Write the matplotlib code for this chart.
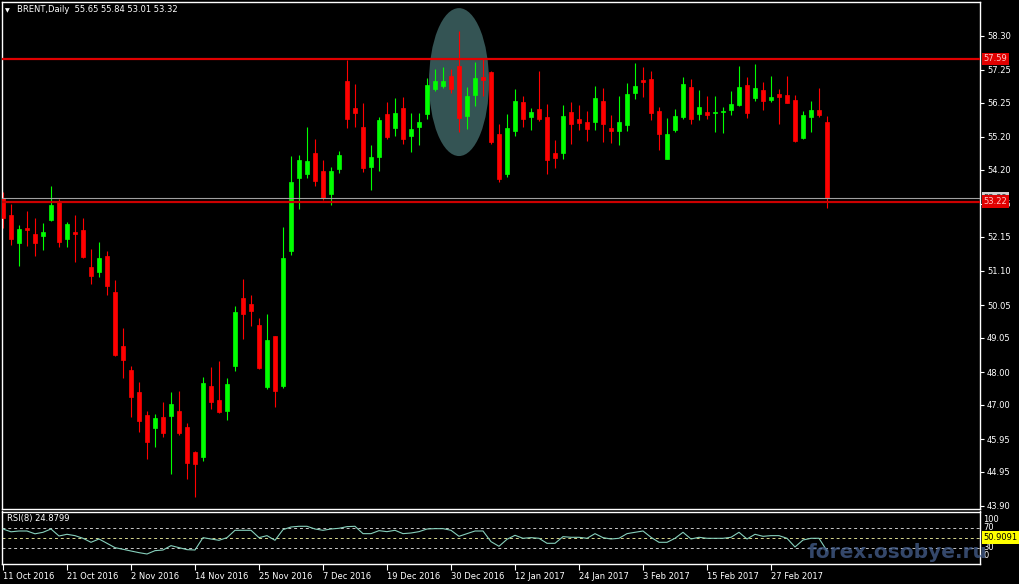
import matplotlib.pyplot as plt
from matplotlib.patches import Ellipse
import matplotlib.transforms as mtransforms

# daily BRENT candles, 11 Oct 2016 .. 8 Mar 2017
opens = [53.32, 52.81, 51.96, 52.41, 52.23, 52.18, 52.66, 53.20, 52.08, 52.29,
         52.35, 51.22, 51.07, 51.55, 50.45, 48.80, 48.06, 47.40, 46.69, 46.30,
         46.63, 46.67, 46.81, 46.32, 45.55, 45.41, 47.57, 47.15, 46.82, 48.19,
         50.27, 50.09, 49.44, 47.53, 49.11, 47.57, 51.72, 53.95, 54.07, 54.72,
         54.17, 53.45, 54.22, 56.91, 56.10, 55.51, 54.29, 54.60, 55.90, 55.48,
         56.09, 55.23, 55.50, 55.91, 56.67, 56.76, 57.07, 57.37, 55.85, 56.48,
         57.03, 57.20, 55.29, 54.07, 55.38, 56.27, 55.82, 56.06, 55.81, 54.71,
         54.72, 55.96, 55.75, 55.66, 55.67, 56.30, 55.47, 55.39, 55.56, 56.55,
         56.94, 56.97, 55.99, 54.52, 55.41, 55.81, 56.73, 55.91, 55.96, 55.92,
         55.97, 56.03, 56.19, 56.79, 56.40, 56.64, 56.34, 56.52, 56.48, 56.33,
         55.17, 55.82, 56.03, 55.65]
highs = [53.52, 53.14, 52.50, 52.93, 52.71, 52.57, 53.70, 53.29, 52.60, 52.81,
         52.71, 51.77, 51.98, 51.71, 50.82, 49.35, 48.19, 47.70, 46.81, 46.72,
         47.09, 47.39, 47.42, 46.45, 45.58, 47.85, 48.16, 48.34, 47.82, 50.02,
         50.85, 50.36, 49.66, 49.78, 49.11, 52.44, 54.62, 54.65, 55.51, 55.13,
         54.49, 54.29, 54.78, 57.56, 56.82, 56.23, 54.95, 55.82, 56.28, 56.38,
         56.41, 55.92, 55.92, 57.00, 57.28, 57.33, 57.28, 58.45, 56.72, 57.49,
         57.61, 57.22, 55.60, 55.90, 56.67, 56.44, 56.09, 57.23, 56.21, 55.11,
         56.18, 56.27, 56.18, 55.99, 56.76, 56.70, 55.87, 56.45, 56.84, 57.46,
         57.35, 57.23, 56.12, 55.79, 56.05, 57.04, 56.97, 56.64, 56.45, 56.45,
         56.12, 56.61, 57.37, 57.04, 57.43, 56.88, 57.07, 56.67, 57.07, 56.48,
         55.99, 56.30, 56.70, 55.84]
lows = [52.40, 51.89, 51.25, 51.86, 51.55, 51.74, 52.63, 51.84, 51.83, 51.38,
        51.48, 50.70, 50.91, 50.36, 48.50, 47.83, 46.63, 46.18, 45.35, 45.72,
        46.02, 44.88, 46.07, 44.73, 44.19, 45.29, 46.86, 46.76, 46.53, 48.03,
        49.01, 49.41, 48.10, 47.48, 46.93, 47.52, 51.60, 52.98, 53.93, 53.71,
        53.27, 53.12, 54.09, 55.47, 55.51, 54.14, 53.58, 54.17, 55.14, 55.23,
        54.98, 54.75, 54.95, 55.76, 56.62, 56.69, 56.54, 55.36, 55.44, 56.15,
        56.45, 54.98, 53.83, 53.96, 55.24, 55.51, 55.42, 55.70, 54.07, 54.25,
        54.53, 54.98, 55.41, 55.08, 55.41, 55.05, 55.02, 54.95, 55.39, 56.36,
        56.42, 55.72, 54.80, 54.52, 55.36, 55.76, 55.61, 55.72, 55.75, 55.36,
        55.33, 55.88, 56.15, 55.79, 56.31, 56.03, 56.28, 55.61, 56.24, 55.05,
        55.13, 55.36, 55.82, 53.01]
closes = [52.73, 52.08, 52.37, 52.36, 51.96, 52.29, 53.13, 51.99, 52.53, 52.24,
          51.52, 50.95, 51.49, 50.64, 48.52, 48.37, 47.25, 46.51, 45.87, 46.59,
          46.15, 47.02, 46.13, 45.22, 45.20, 47.67, 47.09, 46.78, 47.64, 49.84,
          49.78, 49.87, 48.13, 48.98, 47.43, 51.49, 53.82, 54.49, 54.46, 53.86,
          53.32, 54.16, 54.65, 55.75, 55.94, 54.26, 54.60, 55.72, 55.19, 55.92,
          55.15, 55.44, 55.65, 56.79, 56.91, 56.91, 56.66, 55.78, 56.45, 57.00,
          56.94, 55.04, 53.90, 55.47, 56.30, 55.75, 55.96, 55.75, 54.49, 54.56,
          55.84, 55.60, 55.63, 55.44, 56.39, 55.60, 55.39, 55.66, 56.52, 56.76,
          56.89, 55.93, 55.29, 55.29, 55.84, 56.82, 55.75, 56.12, 55.88, 55.96,
          56.00, 56.21, 56.73, 55.94, 56.70, 56.31, 56.42, 56.43, 56.25, 55.09,
          55.87, 56.03, 55.87, 53.32]

rsi = [68.6, 63.0, 64.6, 64.6, 59.0, 62.0, 68.6, 54.6, 58.0, 55.3,
       50.0, 42.0, 48.6, 40.0, 31.3, 28.0, 24.6, 21.3, 18.6, 25.3,
       26.6, 35.3, 31.3, 27.3, 26.6, 51.3, 48.6, 46.0, 51.3, 66.0,
       66.0, 66.0, 51.3, 55.3, 46.0, 67.3, 72.6, 74.0, 74.0, 68.6,
       66.0, 68.6, 70.0, 73.3, 74.0, 59.3, 59.3, 65.3, 63.3, 66.0,
       59.3, 60.6, 63.3, 68.6, 69.3, 69.3, 66.0, 54.0, 59.3, 64.6,
       64.6, 43.3, 34.0, 48.0, 56.0, 50.0, 51.3, 50.0, 40.0, 40.0,
       53.3, 52.0, 52.0, 50.0, 59.3, 51.3, 48.6, 50.0, 59.3, 62.0,
       64.6, 52.0, 42.0, 42.0, 50.0, 62.0, 48.6, 52.0, 50.0, 50.0,
       50.0, 52.0, 62.0, 48.6, 58.0, 54.0, 55.3, 55.3, 50.0, 32.6,
       46.6, 50.0, 50.0, 24.88]

date_labels = ["11 Oct 2016", "21 Oct 2016", "2 Nov 2016", "14 Nov 2016",
               "25 Nov 2016", "7 Dec 2016", "19 Dec 2016", "30 Dec 2016",
               "12 Jan 2017", "24 Jan 2017", "3 Feb 2017", "15 Feb 2017",
               "27 Feb 2017"]
price_ticks = [58.30, 57.25, 56.25, 55.20, 54.20, 53.15, 52.15, 51.10,
               50.05, 49.05, 48.00, 47.00, 45.95, 44.95, 43.90]

resistance = 57.59
support = 53.22
bid = 53.32

W, H = 1020, 584
fig = plt.figure(figsize=(W / 100, H / 100), dpi=100, facecolor='black')

# main price panel (pixels: x 2..980, y 2..509)
ax = fig.add_axes([2 / W, 1 - 509 / H, 978 / W, 507 / H], facecolor='black')
# rsi panel (pixels: y 511.5..563.5)
rax = fig.add_axes([2 / W, 1 - 563.5 / H, 978 / W, 52 / H], facecolor='black')

for a in (ax, rax):
    for s in a.spines.values():
        s.set_color('white')
        s.set_linewidth(1)
    a.set_xlim(-0.125, 122.125)

# highlight ellipse around the false breakout
ax.add_patch(Ellipse((57.0, 56.88), 7.5, 4.53, facecolor='#345454',
                     edgecolor='none', zorder=0))

xs = range(len(opens))
for i in xs:
    o, hi, lo, c = opens[i], highs[i], lows[i], closes[i]
    col = '#00ff00' if c >= o else '#ff0000'
    ax.vlines(i, lo, hi, color=col, linewidth=0.8, zorder=2)
    ax.bar(i, max(abs(c - o), 0.01), bottom=min(o, c), width=0.62,
           color=col, edgecolor=col, linewidth=0.5, zorder=3)

ax.axhline(resistance, color='#e00000', linewidth=1.6, zorder=4)
ax.axhline(bid, color='#a0a0a0', linewidth=0.8, zorder=4)
ax.axhline(support, color='#cc0000', linewidth=1.6, zorder=4)

ax.set_ylim(43.808, 59.332)
ax.yaxis.tick_right()
ax.set_yticks(price_ticks, [f"{v:.2f}" for v in price_ticks])
ax.tick_params(axis='y', colors='white', labelsize=6, length=3, width=0.8, pad=2)
ax.set_xticks([])

# price labels of the horizontal lines
ytrans = mtransforms.blended_transform_factory(ax.transAxes, ax.transData)
ax.text(1.0035, bid, f"{bid:.2f}", transform=ytrans, fontsize=6, color='#333333',
        va='center', ha='left', clip_on=False, zorder=6,
        bbox=dict(boxstyle='square,pad=0.2', fc='#d0d0d0', ec='none'))
ax.text(1.0035, resistance, f"{resistance:.2f}", transform=ytrans, fontsize=6,
        color='#ffc8c8', va='center', ha='left', clip_on=False, zorder=6,
        bbox=dict(boxstyle='square,pad=0.2', fc='#e00000', ec='none'))
ax.text(1.0035, support, f"{support:.2f}", transform=ytrans, fontsize=6,
        color='#ffc8c8', va='center', ha='left', clip_on=False, zorder=7,
        bbox=dict(boxstyle='square,pad=0.2', fc='#e00000', ec='none'))

fig.text(5 / W, 1 - 10.5 / H, u"\u25bc", fontsize=4.5, color='white', va='center')
fig.text(17 / W, 1 - 10 / H, "BRENT,Daily  55.65 55.84 53.01 53.32",
         fontsize=6, color='white', va='center')

# RSI panel
rax.plot(list(xs), rsi, color='#86d0bc', linewidth=0.8, zorder=3)
for lvl, col in ((70, '#c8c8c8'), (50, '#d8d890'), (30, '#c8c8c8')):
    rax.axhline(lvl, color=col, linewidth=0.7, linestyle=(0, (3, 3)), zorder=2)
rax.set_ylim(-0.4, 103.6)
rax.set_yticks([])
rax.set_xticks(range(0, 8 * len(date_labels), 8), date_labels, ha='left')
rax.tick_params(axis='x', colors='white', labelsize=6, length=4, width=0.8, pad=2)

rtrans = mtransforms.blended_transform_factory(rax.transAxes, rax.transData)
for txt, yv in (("100", 88.6), ("70", 70.6), ("30", 30.6), ("0", 14.6)):
    rax.text(1.0035, yv, txt, transform=rtrans, fontsize=6, color='white',
             va='center', ha='left', clip_on=False)
rax.text(1.0035, 51.6, "50.9091", transform=rtrans, fontsize=6, color='black',
         va='center', ha='left', clip_on=False, zorder=6,
         bbox=dict(boxstyle='square,pad=0.2', fc='#ffff00', ec='none'))
rax.text(0.005, 0.86, "RSI(8) 24.8799", transform=rax.transAxes, fontsize=6,
         color='white', va='center', ha='left')

# site watermark
fig.text(808 / W, 1 - 553 / H, "forex.osobye.ru", fontsize=14.5, fontweight='bold',
         color='#46608e', alpha=0.75, va='center', ha='left', zorder=10)

fig.savefig('out.png', dpi=100, facecolor='black')
